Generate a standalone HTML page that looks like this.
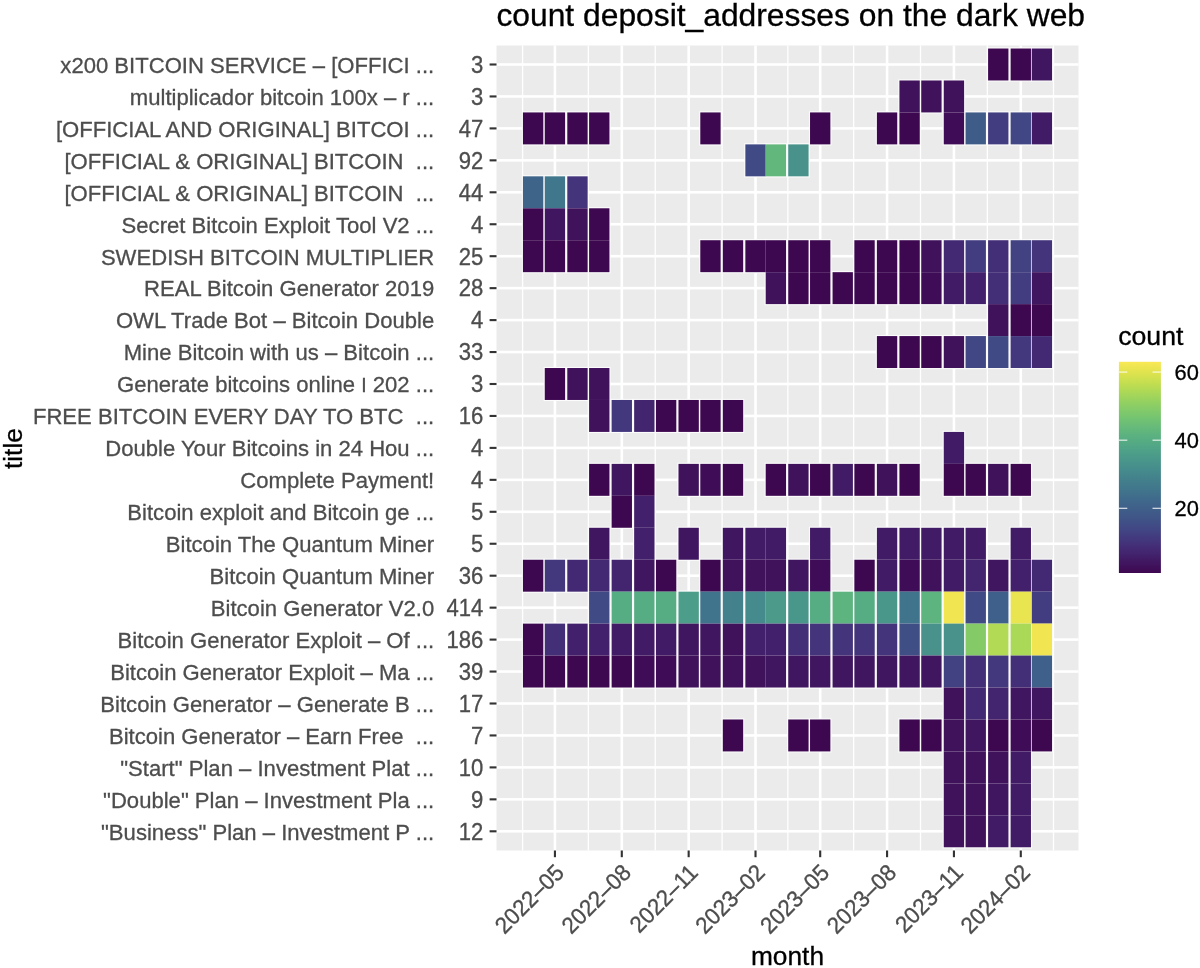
<!DOCTYPE html><html><head><meta charset="utf-8"><style>html,body{margin:0;padding:0;background:#fff;}svg{display:block;will-change:transform;} text{stroke-width:0.3px;} text[fill="#4d4d4d"]{stroke:#4d4d4d;} text[fill="#000"]{stroke:#000;}</style></head><body>
<svg width="1200" height="968" viewBox="0 0 1200 968" font-family="&quot;Liberation Sans&quot;, sans-serif">
<rect x="0" y="0" width="1200" height="968" fill="#fff"/>
<text x="496.4" y="25.8" font-size="31.8" fill="#000">count deposit_addresses on the dark web</text>
<rect x="496.5" y="45.5" width="582.00" height="805.00" fill="#ebebeb"/>
<rect x="521.94" y="45.5" width="1.3" height="805.00" fill="#fff"/>
<rect x="587.71" y="45.5" width="1.3" height="805.00" fill="#fff"/>
<rect x="654.58" y="45.5" width="1.3" height="805.00" fill="#fff"/>
<rect x="721.44" y="45.5" width="1.3" height="805.00" fill="#fff"/>
<rect x="787.21" y="45.5" width="1.3" height="805.00" fill="#fff"/>
<rect x="852.99" y="45.5" width="1.3" height="805.00" fill="#fff"/>
<rect x="919.85" y="45.5" width="1.3" height="805.00" fill="#fff"/>
<rect x="986.71" y="45.5" width="1.3" height="805.00" fill="#fff"/>
<rect x="1052.85" y="45.5" width="1.3" height="805.00" fill="#fff"/>
<rect x="553.63" y="45.5" width="2.6" height="805.00" fill="#fff"/>
<rect x="620.50" y="45.5" width="2.6" height="805.00" fill="#fff"/>
<rect x="687.36" y="45.5" width="2.6" height="805.00" fill="#fff"/>
<rect x="754.22" y="45.5" width="2.6" height="805.00" fill="#fff"/>
<rect x="818.90" y="45.5" width="2.6" height="805.00" fill="#fff"/>
<rect x="885.77" y="45.5" width="2.6" height="805.00" fill="#fff"/>
<rect x="952.63" y="45.5" width="2.6" height="805.00" fill="#fff"/>
<rect x="1019.49" y="45.5" width="2.6" height="805.00" fill="#fff"/>
<rect x="496.5" y="63.20" width="582.00" height="2.6" fill="#fff"/>
<rect x="496.5" y="95.15" width="582.00" height="2.6" fill="#fff"/>
<rect x="496.5" y="127.10" width="582.00" height="2.6" fill="#fff"/>
<rect x="496.5" y="159.05" width="582.00" height="2.6" fill="#fff"/>
<rect x="496.5" y="191.00" width="582.00" height="2.6" fill="#fff"/>
<rect x="496.5" y="222.95" width="582.00" height="2.6" fill="#fff"/>
<rect x="496.5" y="254.90" width="582.00" height="2.6" fill="#fff"/>
<rect x="496.5" y="286.85" width="582.00" height="2.6" fill="#fff"/>
<rect x="496.5" y="318.80" width="582.00" height="2.6" fill="#fff"/>
<rect x="496.5" y="350.75" width="582.00" height="2.6" fill="#fff"/>
<rect x="496.5" y="382.70" width="582.00" height="2.6" fill="#fff"/>
<rect x="496.5" y="414.65" width="582.00" height="2.6" fill="#fff"/>
<rect x="496.5" y="446.60" width="582.00" height="2.6" fill="#fff"/>
<rect x="496.5" y="478.55" width="582.00" height="2.6" fill="#fff"/>
<rect x="496.5" y="510.50" width="582.00" height="2.6" fill="#fff"/>
<rect x="496.5" y="542.45" width="582.00" height="2.6" fill="#fff"/>
<rect x="496.5" y="574.40" width="582.00" height="2.6" fill="#fff"/>
<rect x="496.5" y="606.35" width="582.00" height="2.6" fill="#fff"/>
<rect x="496.5" y="638.30" width="582.00" height="2.6" fill="#fff"/>
<rect x="496.5" y="670.25" width="582.00" height="2.6" fill="#fff"/>
<rect x="496.5" y="702.20" width="582.00" height="2.6" fill="#fff"/>
<rect x="496.5" y="734.15" width="582.00" height="2.6" fill="#fff"/>
<rect x="496.5" y="766.10" width="582.00" height="2.6" fill="#fff"/>
<rect x="496.5" y="798.05" width="582.00" height="2.6" fill="#fff"/>
<rect x="496.5" y="830.00" width="582.00" height="2.6" fill="#fff"/>
<rect x="986.99" y="47.42" width="22.55" height="34.15" fill="#fcfcfc"/>
<rect x="1009.52" y="47.42" width="22.55" height="34.15" fill="#fcfcfc"/>
<rect x="1030.60" y="47.42" width="22.55" height="34.15" fill="#fcfcfc"/>
<rect x="898.32" y="79.38" width="22.55" height="34.15" fill="#fcfcfc"/>
<rect x="920.13" y="79.38" width="22.55" height="34.15" fill="#fcfcfc"/>
<rect x="942.66" y="79.38" width="22.55" height="34.15" fill="#fcfcfc"/>
<rect x="521.85" y="111.33" width="22.55" height="34.15" fill="#fcfcfc"/>
<rect x="543.66" y="111.33" width="22.55" height="34.15" fill="#fcfcfc"/>
<rect x="566.19" y="111.33" width="22.55" height="34.15" fill="#fcfcfc"/>
<rect x="587.99" y="111.33" width="22.55" height="34.15" fill="#fcfcfc"/>
<rect x="699.19" y="111.33" width="22.55" height="34.15" fill="#fcfcfc"/>
<rect x="808.93" y="111.33" width="22.55" height="34.15" fill="#fcfcfc"/>
<rect x="875.79" y="111.33" width="22.55" height="34.15" fill="#fcfcfc"/>
<rect x="898.32" y="111.33" width="22.55" height="34.15" fill="#fcfcfc"/>
<rect x="942.66" y="111.33" width="22.55" height="34.15" fill="#fcfcfc"/>
<rect x="964.46" y="111.33" width="22.55" height="34.15" fill="#fcfcfc"/>
<rect x="986.99" y="111.33" width="22.55" height="34.15" fill="#fcfcfc"/>
<rect x="1009.52" y="111.33" width="22.55" height="34.15" fill="#fcfcfc"/>
<rect x="1030.60" y="111.33" width="22.55" height="34.15" fill="#fcfcfc"/>
<rect x="744.25" y="143.28" width="22.55" height="34.15" fill="#fcfcfc"/>
<rect x="764.60" y="143.28" width="22.55" height="34.15" fill="#fcfcfc"/>
<rect x="787.13" y="143.28" width="22.55" height="34.15" fill="#fcfcfc"/>
<rect x="521.85" y="175.23" width="22.55" height="34.15" fill="#fcfcfc"/>
<rect x="543.66" y="175.23" width="22.55" height="34.15" fill="#fcfcfc"/>
<rect x="566.19" y="175.23" width="22.55" height="34.15" fill="#fcfcfc"/>
<rect x="521.85" y="207.18" width="22.55" height="34.15" fill="#fcfcfc"/>
<rect x="543.66" y="207.18" width="22.55" height="34.15" fill="#fcfcfc"/>
<rect x="566.19" y="207.18" width="22.55" height="34.15" fill="#fcfcfc"/>
<rect x="587.99" y="207.18" width="22.55" height="34.15" fill="#fcfcfc"/>
<rect x="521.85" y="239.12" width="22.55" height="34.15" fill="#fcfcfc"/>
<rect x="543.66" y="239.12" width="22.55" height="34.15" fill="#fcfcfc"/>
<rect x="566.19" y="239.12" width="22.55" height="34.15" fill="#fcfcfc"/>
<rect x="587.99" y="239.12" width="22.55" height="34.15" fill="#fcfcfc"/>
<rect x="699.19" y="239.12" width="22.55" height="34.15" fill="#fcfcfc"/>
<rect x="721.72" y="239.12" width="22.55" height="34.15" fill="#fcfcfc"/>
<rect x="744.25" y="239.12" width="22.55" height="34.15" fill="#fcfcfc"/>
<rect x="764.60" y="239.12" width="22.55" height="34.15" fill="#fcfcfc"/>
<rect x="787.13" y="239.12" width="22.55" height="34.15" fill="#fcfcfc"/>
<rect x="808.93" y="239.12" width="22.55" height="34.15" fill="#fcfcfc"/>
<rect x="853.26" y="239.12" width="22.55" height="34.15" fill="#fcfcfc"/>
<rect x="875.79" y="239.12" width="22.55" height="34.15" fill="#fcfcfc"/>
<rect x="898.32" y="239.12" width="22.55" height="34.15" fill="#fcfcfc"/>
<rect x="920.13" y="239.12" width="22.55" height="34.15" fill="#fcfcfc"/>
<rect x="942.66" y="239.12" width="22.55" height="34.15" fill="#fcfcfc"/>
<rect x="964.46" y="239.12" width="22.55" height="34.15" fill="#fcfcfc"/>
<rect x="986.99" y="239.12" width="22.55" height="34.15" fill="#fcfcfc"/>
<rect x="1009.52" y="239.12" width="22.55" height="34.15" fill="#fcfcfc"/>
<rect x="1030.60" y="239.12" width="22.55" height="34.15" fill="#fcfcfc"/>
<rect x="764.60" y="271.07" width="22.55" height="34.15" fill="#fcfcfc"/>
<rect x="787.13" y="271.07" width="22.55" height="34.15" fill="#fcfcfc"/>
<rect x="808.93" y="271.07" width="22.55" height="34.15" fill="#fcfcfc"/>
<rect x="831.46" y="271.07" width="22.55" height="34.15" fill="#fcfcfc"/>
<rect x="853.26" y="271.07" width="22.55" height="34.15" fill="#fcfcfc"/>
<rect x="875.79" y="271.07" width="22.55" height="34.15" fill="#fcfcfc"/>
<rect x="898.32" y="271.07" width="22.55" height="34.15" fill="#fcfcfc"/>
<rect x="920.13" y="271.07" width="22.55" height="34.15" fill="#fcfcfc"/>
<rect x="942.66" y="271.07" width="22.55" height="34.15" fill="#fcfcfc"/>
<rect x="964.46" y="271.07" width="22.55" height="34.15" fill="#fcfcfc"/>
<rect x="986.99" y="271.07" width="22.55" height="34.15" fill="#fcfcfc"/>
<rect x="1009.52" y="271.07" width="22.55" height="34.15" fill="#fcfcfc"/>
<rect x="1030.60" y="271.07" width="22.55" height="34.15" fill="#fcfcfc"/>
<rect x="986.99" y="303.02" width="22.55" height="34.15" fill="#fcfcfc"/>
<rect x="1009.52" y="303.02" width="22.55" height="34.15" fill="#fcfcfc"/>
<rect x="1030.60" y="303.02" width="22.55" height="34.15" fill="#fcfcfc"/>
<rect x="875.79" y="334.97" width="22.55" height="34.15" fill="#fcfcfc"/>
<rect x="898.32" y="334.97" width="22.55" height="34.15" fill="#fcfcfc"/>
<rect x="920.13" y="334.97" width="22.55" height="34.15" fill="#fcfcfc"/>
<rect x="942.66" y="334.97" width="22.55" height="34.15" fill="#fcfcfc"/>
<rect x="964.46" y="334.97" width="22.55" height="34.15" fill="#fcfcfc"/>
<rect x="986.99" y="334.97" width="22.55" height="34.15" fill="#fcfcfc"/>
<rect x="1009.52" y="334.97" width="22.55" height="34.15" fill="#fcfcfc"/>
<rect x="1030.60" y="334.97" width="22.55" height="34.15" fill="#fcfcfc"/>
<rect x="543.66" y="366.92" width="22.55" height="34.15" fill="#fcfcfc"/>
<rect x="566.19" y="366.92" width="22.55" height="34.15" fill="#fcfcfc"/>
<rect x="587.99" y="366.92" width="22.55" height="34.15" fill="#fcfcfc"/>
<rect x="587.99" y="398.87" width="22.55" height="34.15" fill="#fcfcfc"/>
<rect x="610.52" y="398.87" width="22.55" height="34.15" fill="#fcfcfc"/>
<rect x="633.05" y="398.87" width="22.55" height="34.15" fill="#fcfcfc"/>
<rect x="654.85" y="398.87" width="22.55" height="34.15" fill="#fcfcfc"/>
<rect x="677.38" y="398.87" width="22.55" height="34.15" fill="#fcfcfc"/>
<rect x="699.19" y="398.87" width="22.55" height="34.15" fill="#fcfcfc"/>
<rect x="721.72" y="398.87" width="22.55" height="34.15" fill="#fcfcfc"/>
<rect x="942.66" y="430.82" width="22.55" height="34.15" fill="#fcfcfc"/>
<rect x="587.99" y="462.77" width="22.55" height="34.15" fill="#fcfcfc"/>
<rect x="610.52" y="462.77" width="22.55" height="34.15" fill="#fcfcfc"/>
<rect x="633.05" y="462.77" width="22.55" height="34.15" fill="#fcfcfc"/>
<rect x="677.38" y="462.77" width="22.55" height="34.15" fill="#fcfcfc"/>
<rect x="699.19" y="462.77" width="22.55" height="34.15" fill="#fcfcfc"/>
<rect x="721.72" y="462.77" width="22.55" height="34.15" fill="#fcfcfc"/>
<rect x="764.60" y="462.77" width="22.55" height="34.15" fill="#fcfcfc"/>
<rect x="787.13" y="462.77" width="22.55" height="34.15" fill="#fcfcfc"/>
<rect x="808.93" y="462.77" width="22.55" height="34.15" fill="#fcfcfc"/>
<rect x="831.46" y="462.77" width="22.55" height="34.15" fill="#fcfcfc"/>
<rect x="853.26" y="462.77" width="22.55" height="34.15" fill="#fcfcfc"/>
<rect x="875.79" y="462.77" width="22.55" height="34.15" fill="#fcfcfc"/>
<rect x="898.32" y="462.77" width="22.55" height="34.15" fill="#fcfcfc"/>
<rect x="942.66" y="462.77" width="22.55" height="34.15" fill="#fcfcfc"/>
<rect x="964.46" y="462.77" width="22.55" height="34.15" fill="#fcfcfc"/>
<rect x="986.99" y="462.77" width="22.55" height="34.15" fill="#fcfcfc"/>
<rect x="1009.52" y="462.77" width="22.55" height="34.15" fill="#fcfcfc"/>
<rect x="610.52" y="494.72" width="22.55" height="34.15" fill="#fcfcfc"/>
<rect x="633.05" y="494.72" width="22.55" height="34.15" fill="#fcfcfc"/>
<rect x="587.99" y="526.67" width="22.55" height="34.15" fill="#fcfcfc"/>
<rect x="633.05" y="526.67" width="22.55" height="34.15" fill="#fcfcfc"/>
<rect x="677.38" y="526.67" width="22.55" height="34.15" fill="#fcfcfc"/>
<rect x="721.72" y="526.67" width="22.55" height="34.15" fill="#fcfcfc"/>
<rect x="744.25" y="526.67" width="22.55" height="34.15" fill="#fcfcfc"/>
<rect x="764.60" y="526.67" width="22.55" height="34.15" fill="#fcfcfc"/>
<rect x="808.93" y="526.67" width="22.55" height="34.15" fill="#fcfcfc"/>
<rect x="875.79" y="526.67" width="22.55" height="34.15" fill="#fcfcfc"/>
<rect x="898.32" y="526.67" width="22.55" height="34.15" fill="#fcfcfc"/>
<rect x="920.13" y="526.67" width="22.55" height="34.15" fill="#fcfcfc"/>
<rect x="942.66" y="526.67" width="22.55" height="34.15" fill="#fcfcfc"/>
<rect x="964.46" y="526.67" width="22.55" height="34.15" fill="#fcfcfc"/>
<rect x="1009.52" y="526.67" width="22.55" height="34.15" fill="#fcfcfc"/>
<rect x="521.85" y="558.62" width="22.55" height="34.15" fill="#fcfcfc"/>
<rect x="543.66" y="558.62" width="22.55" height="34.15" fill="#fcfcfc"/>
<rect x="566.19" y="558.62" width="22.55" height="34.15" fill="#fcfcfc"/>
<rect x="587.99" y="558.62" width="22.55" height="34.15" fill="#fcfcfc"/>
<rect x="610.52" y="558.62" width="22.55" height="34.15" fill="#fcfcfc"/>
<rect x="633.05" y="558.62" width="22.55" height="34.15" fill="#fcfcfc"/>
<rect x="654.85" y="558.62" width="22.55" height="34.15" fill="#fcfcfc"/>
<rect x="699.19" y="558.62" width="22.55" height="34.15" fill="#fcfcfc"/>
<rect x="721.72" y="558.62" width="22.55" height="34.15" fill="#fcfcfc"/>
<rect x="744.25" y="558.62" width="22.55" height="34.15" fill="#fcfcfc"/>
<rect x="764.60" y="558.62" width="22.55" height="34.15" fill="#fcfcfc"/>
<rect x="787.13" y="558.62" width="22.55" height="34.15" fill="#fcfcfc"/>
<rect x="808.93" y="558.62" width="22.55" height="34.15" fill="#fcfcfc"/>
<rect x="853.26" y="558.62" width="22.55" height="34.15" fill="#fcfcfc"/>
<rect x="875.79" y="558.62" width="22.55" height="34.15" fill="#fcfcfc"/>
<rect x="898.32" y="558.62" width="22.55" height="34.15" fill="#fcfcfc"/>
<rect x="920.13" y="558.62" width="22.55" height="34.15" fill="#fcfcfc"/>
<rect x="942.66" y="558.62" width="22.55" height="34.15" fill="#fcfcfc"/>
<rect x="964.46" y="558.62" width="22.55" height="34.15" fill="#fcfcfc"/>
<rect x="986.99" y="558.62" width="22.55" height="34.15" fill="#fcfcfc"/>
<rect x="1009.52" y="558.62" width="22.55" height="34.15" fill="#fcfcfc"/>
<rect x="1030.60" y="558.62" width="22.55" height="34.15" fill="#fcfcfc"/>
<rect x="587.99" y="590.57" width="22.55" height="34.15" fill="#fcfcfc"/>
<rect x="610.52" y="590.57" width="22.55" height="34.15" fill="#fcfcfc"/>
<rect x="633.05" y="590.57" width="22.55" height="34.15" fill="#fcfcfc"/>
<rect x="654.85" y="590.57" width="22.55" height="34.15" fill="#fcfcfc"/>
<rect x="677.38" y="590.57" width="22.55" height="34.15" fill="#fcfcfc"/>
<rect x="699.19" y="590.57" width="22.55" height="34.15" fill="#fcfcfc"/>
<rect x="721.72" y="590.57" width="22.55" height="34.15" fill="#fcfcfc"/>
<rect x="744.25" y="590.57" width="22.55" height="34.15" fill="#fcfcfc"/>
<rect x="764.60" y="590.57" width="22.55" height="34.15" fill="#fcfcfc"/>
<rect x="787.13" y="590.57" width="22.55" height="34.15" fill="#fcfcfc"/>
<rect x="808.93" y="590.57" width="22.55" height="34.15" fill="#fcfcfc"/>
<rect x="831.46" y="590.57" width="22.55" height="34.15" fill="#fcfcfc"/>
<rect x="853.26" y="590.57" width="22.55" height="34.15" fill="#fcfcfc"/>
<rect x="875.79" y="590.57" width="22.55" height="34.15" fill="#fcfcfc"/>
<rect x="898.32" y="590.57" width="22.55" height="34.15" fill="#fcfcfc"/>
<rect x="920.13" y="590.57" width="22.55" height="34.15" fill="#fcfcfc"/>
<rect x="942.66" y="590.57" width="22.55" height="34.15" fill="#fcfcfc"/>
<rect x="964.46" y="590.57" width="22.55" height="34.15" fill="#fcfcfc"/>
<rect x="986.99" y="590.57" width="22.55" height="34.15" fill="#fcfcfc"/>
<rect x="1009.52" y="590.57" width="22.55" height="34.15" fill="#fcfcfc"/>
<rect x="1030.60" y="590.57" width="22.55" height="34.15" fill="#fcfcfc"/>
<rect x="521.85" y="622.52" width="22.55" height="34.15" fill="#fcfcfc"/>
<rect x="543.66" y="622.52" width="22.55" height="34.15" fill="#fcfcfc"/>
<rect x="566.19" y="622.52" width="22.55" height="34.15" fill="#fcfcfc"/>
<rect x="587.99" y="622.52" width="22.55" height="34.15" fill="#fcfcfc"/>
<rect x="610.52" y="622.52" width="22.55" height="34.15" fill="#fcfcfc"/>
<rect x="633.05" y="622.52" width="22.55" height="34.15" fill="#fcfcfc"/>
<rect x="654.85" y="622.52" width="22.55" height="34.15" fill="#fcfcfc"/>
<rect x="677.38" y="622.52" width="22.55" height="34.15" fill="#fcfcfc"/>
<rect x="699.19" y="622.52" width="22.55" height="34.15" fill="#fcfcfc"/>
<rect x="721.72" y="622.52" width="22.55" height="34.15" fill="#fcfcfc"/>
<rect x="744.25" y="622.52" width="22.55" height="34.15" fill="#fcfcfc"/>
<rect x="764.60" y="622.52" width="22.55" height="34.15" fill="#fcfcfc"/>
<rect x="787.13" y="622.52" width="22.55" height="34.15" fill="#fcfcfc"/>
<rect x="808.93" y="622.52" width="22.55" height="34.15" fill="#fcfcfc"/>
<rect x="831.46" y="622.52" width="22.55" height="34.15" fill="#fcfcfc"/>
<rect x="853.26" y="622.52" width="22.55" height="34.15" fill="#fcfcfc"/>
<rect x="875.79" y="622.52" width="22.55" height="34.15" fill="#fcfcfc"/>
<rect x="898.32" y="622.52" width="22.55" height="34.15" fill="#fcfcfc"/>
<rect x="920.13" y="622.52" width="22.55" height="34.15" fill="#fcfcfc"/>
<rect x="942.66" y="622.52" width="22.55" height="34.15" fill="#fcfcfc"/>
<rect x="964.46" y="622.52" width="22.55" height="34.15" fill="#fcfcfc"/>
<rect x="986.99" y="622.52" width="22.55" height="34.15" fill="#fcfcfc"/>
<rect x="1009.52" y="622.52" width="22.55" height="34.15" fill="#fcfcfc"/>
<rect x="1030.60" y="622.52" width="22.55" height="34.15" fill="#fcfcfc"/>
<rect x="521.85" y="654.47" width="22.55" height="34.15" fill="#fcfcfc"/>
<rect x="543.66" y="654.47" width="22.55" height="34.15" fill="#fcfcfc"/>
<rect x="566.19" y="654.47" width="22.55" height="34.15" fill="#fcfcfc"/>
<rect x="587.99" y="654.47" width="22.55" height="34.15" fill="#fcfcfc"/>
<rect x="610.52" y="654.47" width="22.55" height="34.15" fill="#fcfcfc"/>
<rect x="633.05" y="654.47" width="22.55" height="34.15" fill="#fcfcfc"/>
<rect x="654.85" y="654.47" width="22.55" height="34.15" fill="#fcfcfc"/>
<rect x="677.38" y="654.47" width="22.55" height="34.15" fill="#fcfcfc"/>
<rect x="699.19" y="654.47" width="22.55" height="34.15" fill="#fcfcfc"/>
<rect x="721.72" y="654.47" width="22.55" height="34.15" fill="#fcfcfc"/>
<rect x="744.25" y="654.47" width="22.55" height="34.15" fill="#fcfcfc"/>
<rect x="764.60" y="654.47" width="22.55" height="34.15" fill="#fcfcfc"/>
<rect x="787.13" y="654.47" width="22.55" height="34.15" fill="#fcfcfc"/>
<rect x="808.93" y="654.47" width="22.55" height="34.15" fill="#fcfcfc"/>
<rect x="831.46" y="654.47" width="22.55" height="34.15" fill="#fcfcfc"/>
<rect x="853.26" y="654.47" width="22.55" height="34.15" fill="#fcfcfc"/>
<rect x="875.79" y="654.47" width="22.55" height="34.15" fill="#fcfcfc"/>
<rect x="898.32" y="654.47" width="22.55" height="34.15" fill="#fcfcfc"/>
<rect x="920.13" y="654.47" width="22.55" height="34.15" fill="#fcfcfc"/>
<rect x="942.66" y="654.47" width="22.55" height="34.15" fill="#fcfcfc"/>
<rect x="964.46" y="654.47" width="22.55" height="34.15" fill="#fcfcfc"/>
<rect x="986.99" y="654.47" width="22.55" height="34.15" fill="#fcfcfc"/>
<rect x="1009.52" y="654.47" width="22.55" height="34.15" fill="#fcfcfc"/>
<rect x="1030.60" y="654.47" width="22.55" height="34.15" fill="#fcfcfc"/>
<rect x="942.66" y="686.42" width="22.55" height="34.15" fill="#fcfcfc"/>
<rect x="964.46" y="686.42" width="22.55" height="34.15" fill="#fcfcfc"/>
<rect x="986.99" y="686.42" width="22.55" height="34.15" fill="#fcfcfc"/>
<rect x="1009.52" y="686.42" width="22.55" height="34.15" fill="#fcfcfc"/>
<rect x="1030.60" y="686.42" width="22.55" height="34.15" fill="#fcfcfc"/>
<rect x="721.72" y="718.37" width="22.55" height="34.15" fill="#fcfcfc"/>
<rect x="787.13" y="718.37" width="22.55" height="34.15" fill="#fcfcfc"/>
<rect x="808.93" y="718.37" width="22.55" height="34.15" fill="#fcfcfc"/>
<rect x="898.32" y="718.37" width="22.55" height="34.15" fill="#fcfcfc"/>
<rect x="920.13" y="718.37" width="22.55" height="34.15" fill="#fcfcfc"/>
<rect x="942.66" y="718.37" width="22.55" height="34.15" fill="#fcfcfc"/>
<rect x="964.46" y="718.37" width="22.55" height="34.15" fill="#fcfcfc"/>
<rect x="986.99" y="718.37" width="22.55" height="34.15" fill="#fcfcfc"/>
<rect x="1009.52" y="718.37" width="22.55" height="34.15" fill="#fcfcfc"/>
<rect x="1030.60" y="718.37" width="22.55" height="34.15" fill="#fcfcfc"/>
<rect x="942.66" y="750.32" width="22.55" height="34.15" fill="#fcfcfc"/>
<rect x="964.46" y="750.32" width="22.55" height="34.15" fill="#fcfcfc"/>
<rect x="986.99" y="750.32" width="22.55" height="34.15" fill="#fcfcfc"/>
<rect x="1009.52" y="750.32" width="22.55" height="34.15" fill="#fcfcfc"/>
<rect x="942.66" y="782.27" width="22.55" height="34.15" fill="#fcfcfc"/>
<rect x="964.46" y="782.27" width="22.55" height="34.15" fill="#fcfcfc"/>
<rect x="986.99" y="782.27" width="22.55" height="34.15" fill="#fcfcfc"/>
<rect x="1009.52" y="782.27" width="22.55" height="34.15" fill="#fcfcfc"/>
<rect x="942.66" y="814.22" width="22.55" height="34.15" fill="#fcfcfc"/>
<rect x="964.46" y="814.22" width="22.55" height="34.15" fill="#fcfcfc"/>
<rect x="986.99" y="814.22" width="22.55" height="34.15" fill="#fcfcfc"/>
<rect x="1009.52" y="814.22" width="22.55" height="34.15" fill="#fcfcfc"/>
<rect x="988.09" y="48.52" width="20.35" height="31.95" fill="#3e0851"/>
<rect x="1010.62" y="48.52" width="20.35" height="31.95" fill="#3e0851"/>
<rect x="1031.70" y="48.52" width="20.35" height="31.95" fill="#411661"/>
<rect x="899.42" y="80.48" width="20.35" height="31.95" fill="#40125c"/>
<rect x="921.23" y="80.48" width="20.35" height="31.95" fill="#40125c"/>
<rect x="943.76" y="80.48" width="20.35" height="31.95" fill="#40125c"/>
<rect x="522.95" y="112.43" width="20.35" height="31.95" fill="#3e0851"/>
<rect x="544.76" y="112.43" width="20.35" height="31.95" fill="#3e0851"/>
<rect x="567.29" y="112.43" width="20.35" height="31.95" fill="#3e0851"/>
<rect x="589.09" y="112.43" width="20.35" height="31.95" fill="#3e0851"/>
<rect x="700.29" y="112.43" width="20.35" height="31.95" fill="#3e0851"/>
<rect x="810.03" y="112.43" width="20.35" height="31.95" fill="#3e0851"/>
<rect x="876.89" y="112.43" width="20.35" height="31.95" fill="#3e0851"/>
<rect x="899.42" y="112.43" width="20.35" height="31.95" fill="#3e0851"/>
<rect x="943.76" y="112.43" width="20.35" height="31.95" fill="#3f0d57"/>
<rect x="965.56" y="112.43" width="20.35" height="31.95" fill="#3f5c89"/>
<rect x="988.09" y="112.43" width="20.35" height="31.95" fill="#423d80"/>
<rect x="1010.62" y="112.43" width="20.35" height="31.95" fill="#414684"/>
<rect x="1031.70" y="112.43" width="20.35" height="31.95" fill="#421b66"/>
<rect x="745.35" y="144.38" width="20.35" height="31.95" fill="#404a85"/>
<rect x="765.70" y="144.38" width="20.35" height="31.95" fill="#62b77c"/>
<rect x="788.23" y="144.38" width="20.35" height="31.95" fill="#48928b"/>
<rect x="522.95" y="176.33" width="20.35" height="31.95" fill="#3f648a"/>
<rect x="544.76" y="176.33" width="20.35" height="31.95" fill="#41778c"/>
<rect x="567.29" y="176.33" width="20.35" height="31.95" fill="#43347b"/>
<rect x="522.95" y="208.28" width="20.35" height="31.95" fill="#3e0851"/>
<rect x="544.76" y="208.28" width="20.35" height="31.95" fill="#411661"/>
<rect x="567.29" y="208.28" width="20.35" height="31.95" fill="#40125c"/>
<rect x="589.09" y="208.28" width="20.35" height="31.95" fill="#3e0851"/>
<rect x="522.95" y="240.22" width="20.35" height="31.95" fill="#3e0851"/>
<rect x="544.76" y="240.22" width="20.35" height="31.95" fill="#3e0851"/>
<rect x="567.29" y="240.22" width="20.35" height="31.95" fill="#3e0851"/>
<rect x="589.09" y="240.22" width="20.35" height="31.95" fill="#3e0851"/>
<rect x="700.29" y="240.22" width="20.35" height="31.95" fill="#3e0851"/>
<rect x="722.82" y="240.22" width="20.35" height="31.95" fill="#3e0851"/>
<rect x="745.35" y="240.22" width="20.35" height="31.95" fill="#3e0851"/>
<rect x="765.70" y="240.22" width="20.35" height="31.95" fill="#3e0851"/>
<rect x="788.23" y="240.22" width="20.35" height="31.95" fill="#3e0851"/>
<rect x="810.03" y="240.22" width="20.35" height="31.95" fill="#3e0851"/>
<rect x="854.36" y="240.22" width="20.35" height="31.95" fill="#3e0851"/>
<rect x="876.89" y="240.22" width="20.35" height="31.95" fill="#3e0851"/>
<rect x="899.42" y="240.22" width="20.35" height="31.95" fill="#3e0851"/>
<rect x="921.23" y="240.22" width="20.35" height="31.95" fill="#40125c"/>
<rect x="943.76" y="240.22" width="20.35" height="31.95" fill="#432973"/>
<rect x="965.56" y="240.22" width="20.35" height="31.95" fill="#423d80"/>
<rect x="988.09" y="240.22" width="20.35" height="31.95" fill="#432f78"/>
<rect x="1010.62" y="240.22" width="20.35" height="31.95" fill="#424182"/>
<rect x="1031.70" y="240.22" width="20.35" height="31.95" fill="#43347b"/>
<rect x="765.70" y="272.17" width="20.35" height="31.95" fill="#40125c"/>
<rect x="788.23" y="272.17" width="20.35" height="31.95" fill="#3e0851"/>
<rect x="810.03" y="272.17" width="20.35" height="31.95" fill="#3e0851"/>
<rect x="832.56" y="272.17" width="20.35" height="31.95" fill="#3e0851"/>
<rect x="854.36" y="272.17" width="20.35" height="31.95" fill="#3e0851"/>
<rect x="876.89" y="272.17" width="20.35" height="31.95" fill="#3e0851"/>
<rect x="899.42" y="272.17" width="20.35" height="31.95" fill="#3e0851"/>
<rect x="921.23" y="272.17" width="20.35" height="31.95" fill="#3f0d57"/>
<rect x="943.76" y="272.17" width="20.35" height="31.95" fill="#421b66"/>
<rect x="965.56" y="272.17" width="20.35" height="31.95" fill="#43206b"/>
<rect x="988.09" y="272.17" width="20.35" height="31.95" fill="#432f78"/>
<rect x="1010.62" y="272.17" width="20.35" height="31.95" fill="#423d80"/>
<rect x="1031.70" y="272.17" width="20.35" height="31.95" fill="#411661"/>
<rect x="988.09" y="304.12" width="20.35" height="31.95" fill="#40125c"/>
<rect x="1010.62" y="304.12" width="20.35" height="31.95" fill="#3e0851"/>
<rect x="1031.70" y="304.12" width="20.35" height="31.95" fill="#3e0851"/>
<rect x="876.89" y="336.07" width="20.35" height="31.95" fill="#3e0851"/>
<rect x="899.42" y="336.07" width="20.35" height="31.95" fill="#3e0851"/>
<rect x="921.23" y="336.07" width="20.35" height="31.95" fill="#3e0851"/>
<rect x="943.76" y="336.07" width="20.35" height="31.95" fill="#40125c"/>
<rect x="965.56" y="336.07" width="20.35" height="31.95" fill="#414684"/>
<rect x="988.09" y="336.07" width="20.35" height="31.95" fill="#404a85"/>
<rect x="1010.62" y="336.07" width="20.35" height="31.95" fill="#43387e"/>
<rect x="1031.70" y="336.07" width="20.35" height="31.95" fill="#432973"/>
<rect x="544.76" y="368.02" width="20.35" height="31.95" fill="#3e0851"/>
<rect x="567.29" y="368.02" width="20.35" height="31.95" fill="#40125c"/>
<rect x="589.09" y="368.02" width="20.35" height="31.95" fill="#40125c"/>
<rect x="589.09" y="399.97" width="20.35" height="31.95" fill="#40125c"/>
<rect x="611.62" y="399.97" width="20.35" height="31.95" fill="#43387e"/>
<rect x="634.15" y="399.97" width="20.35" height="31.95" fill="#43256f"/>
<rect x="655.95" y="399.97" width="20.35" height="31.95" fill="#3e0851"/>
<rect x="678.48" y="399.97" width="20.35" height="31.95" fill="#3e0851"/>
<rect x="700.29" y="399.97" width="20.35" height="31.95" fill="#3e0851"/>
<rect x="722.82" y="399.97" width="20.35" height="31.95" fill="#3e0851"/>
<rect x="943.76" y="431.92" width="20.35" height="31.95" fill="#421b66"/>
<rect x="589.09" y="463.87" width="20.35" height="31.95" fill="#3e0851"/>
<rect x="611.62" y="463.87" width="20.35" height="31.95" fill="#411661"/>
<rect x="634.15" y="463.87" width="20.35" height="31.95" fill="#3e0851"/>
<rect x="678.48" y="463.87" width="20.35" height="31.95" fill="#40125c"/>
<rect x="700.29" y="463.87" width="20.35" height="31.95" fill="#3f0d57"/>
<rect x="722.82" y="463.87" width="20.35" height="31.95" fill="#3e0851"/>
<rect x="765.70" y="463.87" width="20.35" height="31.95" fill="#3e0851"/>
<rect x="788.23" y="463.87" width="20.35" height="31.95" fill="#40125c"/>
<rect x="810.03" y="463.87" width="20.35" height="31.95" fill="#3e0851"/>
<rect x="832.56" y="463.87" width="20.35" height="31.95" fill="#421b66"/>
<rect x="854.36" y="463.87" width="20.35" height="31.95" fill="#3e0851"/>
<rect x="876.89" y="463.87" width="20.35" height="31.95" fill="#40125c"/>
<rect x="899.42" y="463.87" width="20.35" height="31.95" fill="#3e0851"/>
<rect x="943.76" y="463.87" width="20.35" height="31.95" fill="#3e0851"/>
<rect x="965.56" y="463.87" width="20.35" height="31.95" fill="#3e0851"/>
<rect x="988.09" y="463.87" width="20.35" height="31.95" fill="#40125c"/>
<rect x="1010.62" y="463.87" width="20.35" height="31.95" fill="#3e0851"/>
<rect x="611.62" y="495.82" width="20.35" height="31.95" fill="#3e0851"/>
<rect x="634.15" y="495.82" width="20.35" height="31.95" fill="#43206b"/>
<rect x="589.09" y="527.77" width="20.35" height="31.95" fill="#411661"/>
<rect x="634.15" y="527.77" width="20.35" height="31.95" fill="#43206b"/>
<rect x="678.48" y="527.77" width="20.35" height="31.95" fill="#411661"/>
<rect x="722.82" y="527.77" width="20.35" height="31.95" fill="#411661"/>
<rect x="745.35" y="527.77" width="20.35" height="31.95" fill="#421b66"/>
<rect x="765.70" y="527.77" width="20.35" height="31.95" fill="#421b66"/>
<rect x="810.03" y="527.77" width="20.35" height="31.95" fill="#421b66"/>
<rect x="876.89" y="527.77" width="20.35" height="31.95" fill="#421b66"/>
<rect x="899.42" y="527.77" width="20.35" height="31.95" fill="#421b66"/>
<rect x="921.23" y="527.77" width="20.35" height="31.95" fill="#421b66"/>
<rect x="943.76" y="527.77" width="20.35" height="31.95" fill="#421b66"/>
<rect x="965.56" y="527.77" width="20.35" height="31.95" fill="#421b66"/>
<rect x="1010.62" y="527.77" width="20.35" height="31.95" fill="#421b66"/>
<rect x="522.95" y="559.73" width="20.35" height="31.95" fill="#3e0851"/>
<rect x="544.76" y="559.73" width="20.35" height="31.95" fill="#43387e"/>
<rect x="567.29" y="559.73" width="20.35" height="31.95" fill="#432973"/>
<rect x="589.09" y="559.73" width="20.35" height="31.95" fill="#432973"/>
<rect x="611.62" y="559.73" width="20.35" height="31.95" fill="#43256f"/>
<rect x="634.15" y="559.73" width="20.35" height="31.95" fill="#411661"/>
<rect x="655.95" y="559.73" width="20.35" height="31.95" fill="#3e0851"/>
<rect x="700.29" y="559.73" width="20.35" height="31.95" fill="#3e0851"/>
<rect x="722.82" y="559.73" width="20.35" height="31.95" fill="#40125c"/>
<rect x="745.35" y="559.73" width="20.35" height="31.95" fill="#40125c"/>
<rect x="765.70" y="559.73" width="20.35" height="31.95" fill="#40125c"/>
<rect x="788.23" y="559.73" width="20.35" height="31.95" fill="#411661"/>
<rect x="810.03" y="559.73" width="20.35" height="31.95" fill="#3f0d57"/>
<rect x="854.36" y="559.73" width="20.35" height="31.95" fill="#3e0851"/>
<rect x="876.89" y="559.73" width="20.35" height="31.95" fill="#421b66"/>
<rect x="899.42" y="559.73" width="20.35" height="31.95" fill="#3f0d57"/>
<rect x="921.23" y="559.73" width="20.35" height="31.95" fill="#40125c"/>
<rect x="943.76" y="559.73" width="20.35" height="31.95" fill="#421b66"/>
<rect x="965.56" y="559.73" width="20.35" height="31.95" fill="#43256f"/>
<rect x="988.09" y="559.73" width="20.35" height="31.95" fill="#411661"/>
<rect x="1010.62" y="559.73" width="20.35" height="31.95" fill="#43206b"/>
<rect x="1031.70" y="559.73" width="20.35" height="31.95" fill="#432973"/>
<rect x="589.09" y="591.67" width="20.35" height="31.95" fill="#404a85"/>
<rect x="611.62" y="591.67" width="20.35" height="31.95" fill="#57ad83"/>
<rect x="634.15" y="591.67" width="20.35" height="31.95" fill="#57ad83"/>
<rect x="655.95" y="591.67" width="20.35" height="31.95" fill="#57ad83"/>
<rect x="678.48" y="591.67" width="20.35" height="31.95" fill="#4c9d89"/>
<rect x="700.29" y="591.67" width="20.35" height="31.95" fill="#40748c"/>
<rect x="722.82" y="591.67" width="20.35" height="31.95" fill="#43828c"/>
<rect x="745.35" y="591.67" width="20.35" height="31.95" fill="#458a8c"/>
<rect x="765.70" y="591.67" width="20.35" height="31.95" fill="#4b9a8a"/>
<rect x="788.23" y="591.67" width="20.35" height="31.95" fill="#49968b"/>
<rect x="810.03" y="591.67" width="20.35" height="31.95" fill="#57ad83"/>
<rect x="832.56" y="591.67" width="20.35" height="31.95" fill="#5eb47e"/>
<rect x="854.36" y="591.67" width="20.35" height="31.95" fill="#57ad83"/>
<rect x="876.89" y="591.67" width="20.35" height="31.95" fill="#49968b"/>
<rect x="899.42" y="591.67" width="20.35" height="31.95" fill="#40748c"/>
<rect x="921.23" y="591.67" width="20.35" height="31.95" fill="#5eb47e"/>
<rect x="943.76" y="591.67" width="20.35" height="31.95" fill="#f1e652"/>
<rect x="965.56" y="591.67" width="20.35" height="31.95" fill="#404a85"/>
<rect x="988.09" y="591.67" width="20.35" height="31.95" fill="#3f608a"/>
<rect x="1010.62" y="591.67" width="20.35" height="31.95" fill="#e9e550"/>
<rect x="1031.70" y="591.67" width="20.35" height="31.95" fill="#423d80"/>
<rect x="522.95" y="623.62" width="20.35" height="31.95" fill="#3e0851"/>
<rect x="544.76" y="623.62" width="20.35" height="31.95" fill="#432f78"/>
<rect x="567.29" y="623.62" width="20.35" height="31.95" fill="#43206b"/>
<rect x="589.09" y="623.62" width="20.35" height="31.95" fill="#43206b"/>
<rect x="611.62" y="623.62" width="20.35" height="31.95" fill="#421b66"/>
<rect x="634.15" y="623.62" width="20.35" height="31.95" fill="#421b66"/>
<rect x="655.95" y="623.62" width="20.35" height="31.95" fill="#421b66"/>
<rect x="678.48" y="623.62" width="20.35" height="31.95" fill="#411661"/>
<rect x="700.29" y="623.62" width="20.35" height="31.95" fill="#411661"/>
<rect x="722.82" y="623.62" width="20.35" height="31.95" fill="#40125c"/>
<rect x="745.35" y="623.62" width="20.35" height="31.95" fill="#43206b"/>
<rect x="765.70" y="623.62" width="20.35" height="31.95" fill="#43206b"/>
<rect x="788.23" y="623.62" width="20.35" height="31.95" fill="#432f78"/>
<rect x="810.03" y="623.62" width="20.35" height="31.95" fill="#43347b"/>
<rect x="832.56" y="623.62" width="20.35" height="31.95" fill="#43347b"/>
<rect x="854.36" y="623.62" width="20.35" height="31.95" fill="#43347b"/>
<rect x="876.89" y="623.62" width="20.35" height="31.95" fill="#43347b"/>
<rect x="899.42" y="623.62" width="20.35" height="31.95" fill="#404e86"/>
<rect x="921.23" y="623.62" width="20.35" height="31.95" fill="#48928b"/>
<rect x="943.76" y="623.62" width="20.35" height="31.95" fill="#48928b"/>
<rect x="965.56" y="623.62" width="20.35" height="31.95" fill="#84cb68"/>
<rect x="988.09" y="623.62" width="20.35" height="31.95" fill="#b2da54"/>
<rect x="1010.62" y="623.62" width="20.35" height="31.95" fill="#aad857"/>
<rect x="1031.70" y="623.62" width="20.35" height="31.95" fill="#f1e652"/>
<rect x="522.95" y="655.57" width="20.35" height="31.95" fill="#3e0851"/>
<rect x="544.76" y="655.57" width="20.35" height="31.95" fill="#3e0851"/>
<rect x="567.29" y="655.57" width="20.35" height="31.95" fill="#3e0851"/>
<rect x="589.09" y="655.57" width="20.35" height="31.95" fill="#3e0851"/>
<rect x="611.62" y="655.57" width="20.35" height="31.95" fill="#3e0851"/>
<rect x="634.15" y="655.57" width="20.35" height="31.95" fill="#3f0d57"/>
<rect x="655.95" y="655.57" width="20.35" height="31.95" fill="#3f0d57"/>
<rect x="678.48" y="655.57" width="20.35" height="31.95" fill="#40125c"/>
<rect x="700.29" y="655.57" width="20.35" height="31.95" fill="#40125c"/>
<rect x="722.82" y="655.57" width="20.35" height="31.95" fill="#40125c"/>
<rect x="745.35" y="655.57" width="20.35" height="31.95" fill="#40125c"/>
<rect x="765.70" y="655.57" width="20.35" height="31.95" fill="#411661"/>
<rect x="788.23" y="655.57" width="20.35" height="31.95" fill="#411661"/>
<rect x="810.03" y="655.57" width="20.35" height="31.95" fill="#411661"/>
<rect x="832.56" y="655.57" width="20.35" height="31.95" fill="#411661"/>
<rect x="854.36" y="655.57" width="20.35" height="31.95" fill="#411661"/>
<rect x="876.89" y="655.57" width="20.35" height="31.95" fill="#411661"/>
<rect x="899.42" y="655.57" width="20.35" height="31.95" fill="#411661"/>
<rect x="921.23" y="655.57" width="20.35" height="31.95" fill="#411661"/>
<rect x="943.76" y="655.57" width="20.35" height="31.95" fill="#424182"/>
<rect x="965.56" y="655.57" width="20.35" height="31.95" fill="#432f78"/>
<rect x="988.09" y="655.57" width="20.35" height="31.95" fill="#43387e"/>
<rect x="1010.62" y="655.57" width="20.35" height="31.95" fill="#432f78"/>
<rect x="1031.70" y="655.57" width="20.35" height="31.95" fill="#3f608a"/>
<rect x="943.76" y="687.52" width="20.35" height="31.95" fill="#40125c"/>
<rect x="965.56" y="687.52" width="20.35" height="31.95" fill="#432973"/>
<rect x="988.09" y="687.52" width="20.35" height="31.95" fill="#43256f"/>
<rect x="1010.62" y="687.52" width="20.35" height="31.95" fill="#411661"/>
<rect x="1031.70" y="687.52" width="20.35" height="31.95" fill="#411661"/>
<rect x="722.82" y="719.47" width="20.35" height="31.95" fill="#3e0851"/>
<rect x="788.23" y="719.47" width="20.35" height="31.95" fill="#3e0851"/>
<rect x="810.03" y="719.47" width="20.35" height="31.95" fill="#3e0851"/>
<rect x="899.42" y="719.47" width="20.35" height="31.95" fill="#3e0851"/>
<rect x="921.23" y="719.47" width="20.35" height="31.95" fill="#3e0851"/>
<rect x="943.76" y="719.47" width="20.35" height="31.95" fill="#40125c"/>
<rect x="965.56" y="719.47" width="20.35" height="31.95" fill="#411661"/>
<rect x="988.09" y="719.47" width="20.35" height="31.95" fill="#3e0851"/>
<rect x="1010.62" y="719.47" width="20.35" height="31.95" fill="#3f0d57"/>
<rect x="1031.70" y="719.47" width="20.35" height="31.95" fill="#3e0851"/>
<rect x="943.76" y="751.42" width="20.35" height="31.95" fill="#40125c"/>
<rect x="965.56" y="751.42" width="20.35" height="31.95" fill="#40125c"/>
<rect x="988.09" y="751.42" width="20.35" height="31.95" fill="#40125c"/>
<rect x="1010.62" y="751.42" width="20.35" height="31.95" fill="#421b66"/>
<rect x="943.76" y="783.38" width="20.35" height="31.95" fill="#40125c"/>
<rect x="965.56" y="783.38" width="20.35" height="31.95" fill="#40125c"/>
<rect x="988.09" y="783.38" width="20.35" height="31.95" fill="#411661"/>
<rect x="1010.62" y="783.38" width="20.35" height="31.95" fill="#421b66"/>
<rect x="943.76" y="815.32" width="20.35" height="31.95" fill="#40125c"/>
<rect x="965.56" y="815.32" width="20.35" height="31.95" fill="#40125c"/>
<rect x="988.09" y="815.32" width="20.35" height="31.95" fill="#421b66"/>
<rect x="1010.62" y="815.32" width="20.35" height="31.95" fill="#421b66"/>
<rect x="489.6" y="63.45" width="6.9" height="2.1" fill="#333"/>
<rect x="489.6" y="95.40" width="6.9" height="2.1" fill="#333"/>
<rect x="489.6" y="127.35" width="6.9" height="2.1" fill="#333"/>
<rect x="489.6" y="159.30" width="6.9" height="2.1" fill="#333"/>
<rect x="489.6" y="191.25" width="6.9" height="2.1" fill="#333"/>
<rect x="489.6" y="223.20" width="6.9" height="2.1" fill="#333"/>
<rect x="489.6" y="255.15" width="6.9" height="2.1" fill="#333"/>
<rect x="489.6" y="287.10" width="6.9" height="2.1" fill="#333"/>
<rect x="489.6" y="319.05" width="6.9" height="2.1" fill="#333"/>
<rect x="489.6" y="351.00" width="6.9" height="2.1" fill="#333"/>
<rect x="489.6" y="382.95" width="6.9" height="2.1" fill="#333"/>
<rect x="489.6" y="414.90" width="6.9" height="2.1" fill="#333"/>
<rect x="489.6" y="446.85" width="6.9" height="2.1" fill="#333"/>
<rect x="489.6" y="478.80" width="6.9" height="2.1" fill="#333"/>
<rect x="489.6" y="510.75" width="6.9" height="2.1" fill="#333"/>
<rect x="489.6" y="542.70" width="6.9" height="2.1" fill="#333"/>
<rect x="489.6" y="574.65" width="6.9" height="2.1" fill="#333"/>
<rect x="489.6" y="606.60" width="6.9" height="2.1" fill="#333"/>
<rect x="489.6" y="638.55" width="6.9" height="2.1" fill="#333"/>
<rect x="489.6" y="670.50" width="6.9" height="2.1" fill="#333"/>
<rect x="489.6" y="702.45" width="6.9" height="2.1" fill="#333"/>
<rect x="489.6" y="734.40" width="6.9" height="2.1" fill="#333"/>
<rect x="489.6" y="766.35" width="6.9" height="2.1" fill="#333"/>
<rect x="489.6" y="798.30" width="6.9" height="2.1" fill="#333"/>
<rect x="489.6" y="830.25" width="6.9" height="2.1" fill="#333"/>
<rect x="553.88" y="850.5" width="2.1" height="6.7" fill="#333"/>
<rect x="620.75" y="850.5" width="2.1" height="6.7" fill="#333"/>
<rect x="687.61" y="850.5" width="2.1" height="6.7" fill="#333"/>
<rect x="754.47" y="850.5" width="2.1" height="6.7" fill="#333"/>
<rect x="819.15" y="850.5" width="2.1" height="6.7" fill="#333"/>
<rect x="886.02" y="850.5" width="2.1" height="6.7" fill="#333"/>
<rect x="952.88" y="850.5" width="2.1" height="6.7" fill="#333"/>
<rect x="1019.74" y="850.5" width="2.1" height="6.7" fill="#333"/>
<text transform="translate(434.2,72.80) scale(1,1.025)" font-size="22.1" fill="#4d4d4d" text-anchor="end" xml:space="preserve">x200 BITCOIN SERVICE – [OFFICI ...</text>
<text transform="translate(483.4,72.80) scale(1,1.045)" font-size="22.1" fill="#4d4d4d" text-anchor="end">3</text>
<text transform="translate(434.2,104.75) scale(1,1.025)" font-size="22.1" fill="#4d4d4d" text-anchor="end" xml:space="preserve">multiplicador bitcoin 100x – r ...</text>
<text transform="translate(483.4,104.75) scale(1,1.045)" font-size="22.1" fill="#4d4d4d" text-anchor="end">3</text>
<text transform="translate(434.2,136.70) scale(1,1.025)" font-size="22.1" fill="#4d4d4d" text-anchor="end" xml:space="preserve">[OFFICIAL AND ORIGINAL] BITCOI ...</text>
<text transform="translate(483.4,136.70) scale(1,1.045)" font-size="22.1" fill="#4d4d4d" text-anchor="end">47</text>
<text transform="translate(434.2,168.65) scale(1,1.025)" font-size="22.1" fill="#4d4d4d" text-anchor="end" xml:space="preserve">[OFFICIAL &amp; ORIGINAL] BITCOIN  ...</text>
<text transform="translate(483.4,168.65) scale(1,1.045)" font-size="22.1" fill="#4d4d4d" text-anchor="end">92</text>
<text transform="translate(434.2,200.60) scale(1,1.025)" font-size="22.1" fill="#4d4d4d" text-anchor="end" xml:space="preserve">[OFFICIAL &amp; ORIGINAL] BITCOIN  ...</text>
<text transform="translate(483.4,200.60) scale(1,1.045)" font-size="22.1" fill="#4d4d4d" text-anchor="end">44</text>
<text transform="translate(434.2,232.55) scale(1,1.025)" font-size="22.1" fill="#4d4d4d" text-anchor="end" xml:space="preserve">Secret Bitcoin Exploit Tool V2 ...</text>
<text transform="translate(483.4,232.55) scale(1,1.045)" font-size="22.1" fill="#4d4d4d" text-anchor="end">4</text>
<text transform="translate(434.2,264.50) scale(1,1.025)" font-size="22.1" fill="#4d4d4d" text-anchor="end" xml:space="preserve">SWEDISH BITCOIN MULTIPLIER</text>
<text transform="translate(483.4,264.50) scale(1,1.045)" font-size="22.1" fill="#4d4d4d" text-anchor="end">25</text>
<text transform="translate(434.2,296.45) scale(1,1.025)" font-size="22.1" fill="#4d4d4d" text-anchor="end" xml:space="preserve">REAL Bitcoin Generator 2019</text>
<text transform="translate(483.4,296.45) scale(1,1.045)" font-size="22.1" fill="#4d4d4d" text-anchor="end">28</text>
<text transform="translate(434.2,328.40) scale(1,1.025)" font-size="22.1" fill="#4d4d4d" text-anchor="end" xml:space="preserve">OWL Trade Bot – Bitcoin Double</text>
<text transform="translate(483.4,328.40) scale(1,1.045)" font-size="22.1" fill="#4d4d4d" text-anchor="end">4</text>
<text transform="translate(434.2,360.35) scale(1,1.025)" font-size="22.1" fill="#4d4d4d" text-anchor="end" xml:space="preserve">Mine Bitcoin with us – Bitcoin ...</text>
<text transform="translate(483.4,360.35) scale(1,1.045)" font-size="22.1" fill="#4d4d4d" text-anchor="end">33</text>
<text transform="translate(434.2,392.30) scale(1,1.025)" font-size="22.1" fill="#4d4d4d" text-anchor="end" xml:space="preserve">Generate bitcoins online <tspan font-size="19.5">I</tspan> 202 ...</text>
<text transform="translate(483.4,392.30) scale(1,1.045)" font-size="22.1" fill="#4d4d4d" text-anchor="end">3</text>
<text transform="translate(434.2,424.25) scale(1,1.025)" font-size="22.1" fill="#4d4d4d" text-anchor="end" xml:space="preserve">FREE BITCOIN EVERY DAY TO BTC  ...</text>
<text transform="translate(483.4,424.25) scale(1,1.045)" font-size="22.1" fill="#4d4d4d" text-anchor="end">16</text>
<text transform="translate(434.2,456.20) scale(1,1.025)" font-size="22.1" fill="#4d4d4d" text-anchor="end" xml:space="preserve">Double Your Bitcoins in 24 Hou ...</text>
<text transform="translate(483.4,456.20) scale(1,1.045)" font-size="22.1" fill="#4d4d4d" text-anchor="end">4</text>
<text transform="translate(434.2,488.15) scale(1,1.025)" font-size="22.1" fill="#4d4d4d" text-anchor="end" xml:space="preserve">Complete Payment!</text>
<text transform="translate(483.4,488.15) scale(1,1.045)" font-size="22.1" fill="#4d4d4d" text-anchor="end">4</text>
<text transform="translate(434.2,520.10) scale(1,1.025)" font-size="22.1" fill="#4d4d4d" text-anchor="end" xml:space="preserve">Bitcoin exploit and Bitcoin ge ...</text>
<text transform="translate(483.4,520.10) scale(1,1.045)" font-size="22.1" fill="#4d4d4d" text-anchor="end">5</text>
<text transform="translate(434.2,552.05) scale(1,1.025)" font-size="22.1" fill="#4d4d4d" text-anchor="end" xml:space="preserve">Bitcoin The Quantum Miner</text>
<text transform="translate(483.4,552.05) scale(1,1.045)" font-size="22.1" fill="#4d4d4d" text-anchor="end">5</text>
<text transform="translate(434.2,584.00) scale(1,1.025)" font-size="22.1" fill="#4d4d4d" text-anchor="end" xml:space="preserve">Bitcoin Quantum Miner</text>
<text transform="translate(483.4,584.00) scale(1,1.045)" font-size="22.1" fill="#4d4d4d" text-anchor="end">36</text>
<text transform="translate(434.2,615.95) scale(1,1.025)" font-size="22.1" fill="#4d4d4d" text-anchor="end" xml:space="preserve">Bitcoin Generator V2.0</text>
<text transform="translate(483.4,615.95) scale(1,1.045)" font-size="22.1" fill="#4d4d4d" text-anchor="end">414</text>
<text transform="translate(434.2,647.90) scale(1,1.025)" font-size="22.1" fill="#4d4d4d" text-anchor="end" xml:space="preserve">Bitcoin Generator Exploit – Of ...</text>
<text transform="translate(483.4,647.90) scale(1,1.045)" font-size="22.1" fill="#4d4d4d" text-anchor="end">186</text>
<text transform="translate(434.2,679.85) scale(1,1.025)" font-size="22.1" fill="#4d4d4d" text-anchor="end" xml:space="preserve">Bitcoin Generator Exploit – Ma ...</text>
<text transform="translate(483.4,679.85) scale(1,1.045)" font-size="22.1" fill="#4d4d4d" text-anchor="end">39</text>
<text transform="translate(434.2,711.80) scale(1,1.025)" font-size="22.1" fill="#4d4d4d" text-anchor="end" xml:space="preserve">Bitcoin Generator – Generate B ...</text>
<text transform="translate(483.4,711.80) scale(1,1.045)" font-size="22.1" fill="#4d4d4d" text-anchor="end">17</text>
<text transform="translate(434.2,743.75) scale(1,1.025)" font-size="22.1" fill="#4d4d4d" text-anchor="end" xml:space="preserve">Bitcoin Generator – Earn Free  ...</text>
<text transform="translate(483.4,743.75) scale(1,1.045)" font-size="22.1" fill="#4d4d4d" text-anchor="end">7</text>
<text transform="translate(434.2,775.70) scale(1,1.025)" font-size="22.1" fill="#4d4d4d" text-anchor="end" xml:space="preserve">"Start" Plan – Investment Plat ...</text>
<text transform="translate(483.4,775.70) scale(1,1.045)" font-size="22.1" fill="#4d4d4d" text-anchor="end">10</text>
<text transform="translate(434.2,807.65) scale(1,1.025)" font-size="22.1" fill="#4d4d4d" text-anchor="end" xml:space="preserve">"Double" Plan – Investment Pla ...</text>
<text transform="translate(483.4,807.65) scale(1,1.045)" font-size="22.1" fill="#4d4d4d" text-anchor="end">9</text>
<text transform="translate(434.2,839.60) scale(1,1.025)" font-size="22.1" fill="#4d4d4d" text-anchor="end" xml:space="preserve">"Business" Plan – Investment P ...</text>
<text transform="translate(483.4,839.60) scale(1,1.045)" font-size="22.1" fill="#4d4d4d" text-anchor="end">12</text>
<text transform="translate(565.53,874.0) rotate(-45) scale(1,1.045)" font-size="22.2" fill="#4d4d4d" text-anchor="end">2022–05</text>
<text transform="translate(632.40,874.0) rotate(-45) scale(1,1.045)" font-size="22.2" fill="#4d4d4d" text-anchor="end">2022–08</text>
<text transform="translate(699.26,874.0) rotate(-45) scale(1,1.045)" font-size="22.2" fill="#4d4d4d" text-anchor="end">2022–11</text>
<text transform="translate(766.12,874.0) rotate(-45) scale(1,1.045)" font-size="22.2" fill="#4d4d4d" text-anchor="end">2023–02</text>
<text transform="translate(830.80,874.0) rotate(-45) scale(1,1.045)" font-size="22.2" fill="#4d4d4d" text-anchor="end">2023–05</text>
<text transform="translate(897.67,874.0) rotate(-45) scale(1,1.045)" font-size="22.2" fill="#4d4d4d" text-anchor="end">2023–08</text>
<text transform="translate(964.53,874.0) rotate(-45) scale(1,1.045)" font-size="22.2" fill="#4d4d4d" text-anchor="end">2023–11</text>
<text transform="translate(1031.39,874.0) rotate(-45) scale(1,1.045)" font-size="22.2" fill="#4d4d4d" text-anchor="end">2024–02</text>
<text x="787.5" y="964.5" font-size="26.3" fill="#000" text-anchor="middle">month</text>
<text transform="translate(22.3,448.6) rotate(-90)" font-size="26.3" fill="#000" text-anchor="middle">title</text>
<defs><linearGradient id="lg" x1="0" y1="1" x2="0" y2="0"><stop offset="0.000" stop-color="#3e0851"/><stop offset="0.050" stop-color="#411661"/><stop offset="0.100" stop-color="#432670"/><stop offset="0.150" stop-color="#43357c"/><stop offset="0.200" stop-color="#414483"/><stop offset="0.250" stop-color="#405287"/><stop offset="0.300" stop-color="#3f5e89"/><stop offset="0.350" stop-color="#3f6a8b"/><stop offset="0.400" stop-color="#41778c"/><stop offset="0.450" stop-color="#43828c"/><stop offset="0.500" stop-color="#468e8c"/><stop offset="0.550" stop-color="#4b9a8a"/><stop offset="0.600" stop-color="#51a686"/><stop offset="0.650" stop-color="#5bb180"/><stop offset="0.700" stop-color="#69bc78"/><stop offset="0.750" stop-color="#7ac76e"/><stop offset="0.800" stop-color="#8fcf63"/><stop offset="0.850" stop-color="#a8d758"/><stop offset="0.900" stop-color="#c4de50"/><stop offset="0.950" stop-color="#e0e34e"/><stop offset="1.000" stop-color="#fae855"/></linearGradient></defs>
<rect x="1118.9" y="361.8" width="42.00" height="211.20" fill="url(#lg)"/>
<rect x="1118.9" y="507.68" width="8.40" height="1.3" fill="#fff" fill-opacity="0.75"/>
<rect x="1152.50" y="507.68" width="8.40" height="1.3" fill="#fff" fill-opacity="0.75"/>
<text transform="translate(1174.6,516.18) scale(1,1.045)" font-size="21.9" fill="#000">20</text>
<rect x="1118.9" y="439.55" width="8.40" height="1.3" fill="#fff" fill-opacity="0.75"/>
<rect x="1152.50" y="439.55" width="8.40" height="1.3" fill="#fff" fill-opacity="0.75"/>
<text transform="translate(1174.6,448.05) scale(1,1.045)" font-size="21.9" fill="#000">40</text>
<rect x="1118.9" y="371.42" width="8.40" height="1.3" fill="#fff" fill-opacity="0.75"/>
<rect x="1152.50" y="371.42" width="8.40" height="1.3" fill="#fff" fill-opacity="0.75"/>
<text transform="translate(1174.6,379.92) scale(1,1.045)" font-size="21.9" fill="#000">60</text>
<text x="1118.2" y="345.2" font-size="26.7" fill="#000">count</text>
</svg></body></html>
